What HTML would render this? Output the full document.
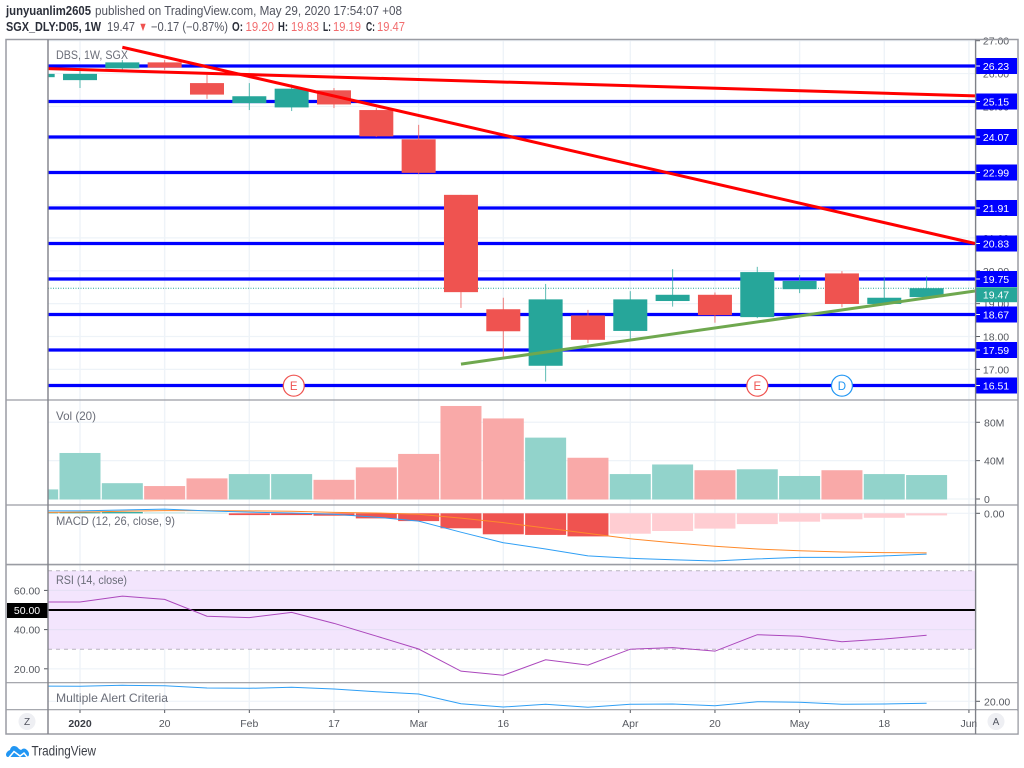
<!DOCTYPE html>
<html lang="en">
<head>
<meta charset="utf-8">
<title>SGX_DLY:D05 weekly chart</title>
<style>
html,body{margin:0;padding:0;background:#fff;width:1024px;height:768px;overflow:hidden}
svg{display:block;position:absolute;left:0;top:0}
text{font-family:"Liberation Sans",sans-serif}
.hd{font-size:12.6px;fill:#50535e}
.hb{font-size:12.6px;fill:#2a2e39;font-weight:bold}
.hr{font-size:12.6px;fill:#f26c6e}
</style>
</head>
<body>
<svg id="chart" width="1024" height="768" viewBox="0 0 1024 768" xmlns="http://www.w3.org/2000/svg">
<defs>
<clipPath id="plot-clip"><rect x="48" y="40" width="927.5" height="670"></rect></clipPath>
</defs>
<g>
<text class="hb" x="6" y="15" textLength="85" lengthAdjust="spacingAndGlyphs">junyuanlim2605</text>
<text class="hd" x="95" y="15" textLength="307" lengthAdjust="spacingAndGlyphs">published on TradingView.com, May 29, 2020 17:54:07 +08</text>
<text class="hb" x="6" y="31" textLength="95" lengthAdjust="spacingAndGlyphs">SGX_DLY:D05, 1W</text>
<text class="hd" x="107" y="31" textLength="28" lengthAdjust="spacingAndGlyphs">19.47</text>
<text class="hr" x="138.5" y="31" textLength="9" lengthAdjust="spacingAndGlyphs" style="fill:#ef5350">▼</text>
<text class="hd" x="151" y="31" textLength="77" lengthAdjust="spacingAndGlyphs">−0.17 (−0.87%)</text>
<text class="hb" x="232" y="31" textLength="11" lengthAdjust="spacingAndGlyphs">O:</text>
<text class="hr" x="245.5" y="31" textLength="28.5" lengthAdjust="spacingAndGlyphs">19.20</text>
<text class="hb" x="278" y="31" textLength="10" lengthAdjust="spacingAndGlyphs">H:</text>
<text class="hr" x="291" y="31" textLength="28" lengthAdjust="spacingAndGlyphs">19.83</text>
<text class="hb" x="323" y="31" textLength="8" lengthAdjust="spacingAndGlyphs">L:</text>
<text class="hr" x="333" y="31" textLength="28" lengthAdjust="spacingAndGlyphs">19.19</text>
<text class="hb" x="366" y="31" textLength="9" lengthAdjust="spacingAndGlyphs">C:</text>
<text class="hr" x="377" y="31" textLength="28" lengthAdjust="spacingAndGlyphs">19.47</text>
</g>
</svg>
<script>
// ---- data: one entry per weekly bar, Dec 30 2019 to May 25 2020 ----
const weeks = ['2019-12-30','2020-01-06','2020-01-13','2020-01-20','2020-01-27','2020-02-03','2020-02-10','2020-02-17','2020-02-24','2020-03-02','2020-03-09','2020-03-16','2020-03-23','2020-03-30','2020-04-06','2020-04-13','2020-04-20','2020-04-27','2020-05-04','2020-05-11','2020-05-18','2020-05-25'];
const opens  = [25.89,25.80,26.16,26.34,25.71,25.10,24.97,25.49,24.89,24.00,22.31,18.83,17.11,18.64,18.17,19.08,19.27,18.59,19.44,19.92,18.99,19.20];
const highs  = [25.99,26.17,26.41,26.41,25.96,25.71,25.67,25.56,24.95,24.44,22.31,19.18,19.60,18.81,19.38,20.05,19.34,20.12,19.87,19.99,19.82,19.83];
const lows   = [25.89,25.56,26.05,26.11,25.23,24.89,24.86,24.95,24.07,22.94,18.87,17.38,16.63,17.80,17.92,18.91,18.42,18.56,19.32,18.89,18.99,19.19];
const closes = [25.99,25.99,26.34,26.18,25.36,25.31,25.54,25.06,24.09,22.98,19.35,18.16,19.13,17.90,19.13,19.27,18.65,19.96,19.69,18.99,19.18,19.47];
const volumes = [10,48,16.5,13.5,21.5,26,26,20,33,47,97,84,64,43,26,36,30,31,24,30,26,25];
const macdHist = [0.02,0.03,0.04,0.03,0.02,-0.06,-0.06,-0.08,-0.17,-0.26,-0.50,-0.70,-0.72,-0.77,-0.68,-0.59,-0.51,-0.36,-0.28,-0.20,-0.15,-0.07];
const macdLine = [0.08,0.08,0.11,0.14,0.08,0.04,0.01,-0.03,-0.13,-0.26,-0.63,-0.98,-1.19,-1.42,-1.50,-1.55,-1.59,-1.52,-1.47,-1.47,-1.42,-1.36];
const signalLine = [0.03,0.04,0.07,0.09,0.09,0.08,0.07,0.03,0.01,-0.03,-0.16,-0.31,-0.49,-0.67,-0.85,-0.98,-1.10,-1.19,-1.25,-1.29,-1.31,-1.32];
const rsiValues = [54.1,54.1,57.1,55.4,46.8,46.1,48.8,43.2,36.7,30.1,18.8,16.7,24.6,21.9,30.0,30.8,29.0,37.4,36.6,33.8,35.2,37.1];
const alertValues = [50.6,50,52,51.2,46.6,46,48,44.6,39.2,34.6,15.2,8.6,14,8,14,14.6,11.2,19.2,18,14,14.6,16];
const levelPrices = [26.23,25.15,24.07,22.99,21.91,20.83,19.75,18.67,17.59,16.51];
const priceTicks = [27,26,25,24,23,22,21,20,19,18,17];
const volTicks = [0,40,80];
const rsiTicks = [60,40,20];
const timeTickLabels = ['2020','20','Feb','17','Mar','16','Apr','20','May','18','Jun'];
const timeTickBars = [1,3,5,7,9,11,14,16,18,20,22];
const eventBars = [6.05,17,19];
const eventLabels = ['E','E','D'];
const trendBarsA = [2,22.143];
const trendPricesA = [26.80,20.83];
const trendBarsB = [0.244,22.143];
const trendPricesB = [26.15,25.32];
const trendBarsC = [10,22.143];
const trendPricesC = [17.16,19.385];
const lastPrice = 19.47;

// ---- axis functions ----
const xAt = k => 80 + 42.33 * (k - 1);
const yPrice = p => 66 + (26.23 - p) * 32.87;
const yVol = v => 499 - v * 0.959;
const yMacd = v => 513.3 - v * 30;
const yRsi = v => 610 - (v - 50) * 1.96;
const yAlert = v => 701.3 - (v - 20) * 0.5;

const svg = document.getElementById('chart');
const NS = 'http://www.w3.org/2000/svg';
function mk(tag, attrs, parent) {
  const el = document.createElementNS(NS, tag);
  for (const k in attrs) el.setAttribute(k, attrs[k]);
  (parent || svg).appendChild(el);
  return el;
}
function label(txt, x, y, size, fill, anchor, weight) {
  const t = mk('text', {x: x, y: y, 'font-size': size, fill: fill, 'text-anchor': anchor || 'start', 'font-weight': weight || 'normal'});
  t.textContent = txt;
  return t;
}
function linePath(values, yFn) {
  return values.map((v, k) => (k ? 'L' : 'M') + xAt(k).toFixed(2) + ' ' + yFn(v).toFixed(2)).join(' ');
}

const GRID = '#eef3f8', AXIS = '#55585f', FRAME = '#9a9ca3';
const UP = '#26a69a', DOWN = '#ef5350';
const plot = mk('g', {'clip-path': 'url(#plot-clip)'});



// vertical grid
timeTickBars.forEach(k => {
  const g = mk('line', {x1: xAt(k), x2: xAt(k), y1: 40, y2: 710, stroke: GRID, 'stroke-width': 1.4}, plot);
  
  
});
// horizontal price grid + ticks
priceTicks.forEach(p => {
  const g = mk('line', {x1: 48, x2: 975, y1: yPrice(p), y2: yPrice(p), stroke: GRID, 'stroke-width': 1.2}, plot);
  
  
  const tk = mk('line', {x1: 975, x2: 980, y1: yPrice(p), y2: yPrice(p), stroke: AXIS, 'stroke-width': 1});
  
  
  const t = label(p.toFixed(2), 996, yPrice(p) + 4, 10.5, AXIS, 'middle');
  
  
});
// horizontal levels
levelPrices.forEach(p => {
  const l = mk('line', {x1: 48, x2: 975, y1: yPrice(p), y2: yPrice(p), stroke: '#0000ff', 'stroke-width': 3.2}, plot);
  
  
});
// last price line
const lp = mk('line', {x1: 48, x2: 975, y1: yPrice(lastPrice), y2: yPrice(lastPrice), stroke: UP, 'stroke-width': 1, 'stroke-dasharray': '1 1.5'}, plot);



// candles
weeks.forEach((w, k) => {
  const c = closes[k] >= opens[k] ? UP : DOWN;
  const x = xAt(k);
  const g = mk('g', {}, plot);
  
  
  mk('line', {x1: x, x2: x, y1: yPrice(highs[k]), y2: yPrice(lows[k]), stroke: c, 'stroke-width': 1, opacity: 0.75}, g);
  const top = yPrice(Math.max(opens[k], closes[k]));
  const bot = yPrice(Math.min(opens[k], closes[k]));
  mk('rect', {x: x - 17, y: top, width: 34, height: bot - top, fill: c}, g);
});

// trend lines
[[trendBarsA, trendPricesA, '#ff0000', 'downtrend-line-steep'], [trendBarsB, trendPricesB, '#ff0000', 'downtrend-line-shallow'], [trendBarsC, trendPricesC, '#6fa84f', 'uptrend-line']].forEach(d => {
  const t = mk('line', {x1: xAt(d[0][0]), y1: yPrice(d[1][0]), x2: xAt(d[0][1]), y2: yPrice(d[1][1]), stroke: d[2], 'stroke-width': 3}, plot);
  
  
});

// events
eventBars.forEach((k, n) => {
  const col = eventLabels[n] === 'E' ? '#ef5350' : '#2196f3';
  const c = mk('circle', {cx: xAt(k), cy: 385.7, r: 10.5, fill: '#fff', stroke: col, 'stroke-width': 1.2}, plot);
  
  
  const t = label(eventLabels[n], xAt(k), 389.9, 11.5, col, 'middle');
  
  
  plot.appendChild(t);
});

// volume
volTicks.forEach(v => {
  const g = mk('line', {x1: 48, x2: 975, y1: yVol(v), y2: yVol(v), stroke: GRID, 'stroke-width': 1.2}, plot);
  
  
  const tk = mk('line', {x1: 975, x2: 980, y1: yVol(v), y2: yVol(v), stroke: AXIS, 'stroke-width': 1});
  
  
  const t = label(v ? v + 'M' : '0', 984, yVol(v) + 4, 10.5, AXIS);
  
  
});
volumes.forEach((v, k) => {
  const r = mk('rect', {x: xAt(k) - 20.5, y: yVol(v), width: 41, height: 499.5 - yVol(v), fill: closes[k] >= opens[k] ? '#92d3cb' : '#f9a9a8'}, plot);
  
  
});

// MACD
const m0 = mk('line', {x1: 48, x2: 975, y1: yMacd(0), y2: yMacd(0), stroke: GRID, 'stroke-width': 1.2}, plot);


macdHist.forEach((v, k) => {
  const prev = k ? macdHist[k - 1] : 0;
  const col = v >= 0 ? (v >= prev ? UP : '#b2dfdb') : (v <= prev ? DOWN : '#ffcdd2');
  const y0 = yMacd(Math.max(v, 0)), y1 = yMacd(Math.min(v, 0));
  const r = mk('rect', {x: xAt(k) - 20.5, y: y0, width: 41, height: y1 - y0, fill: col}, plot);
  
  
});
const sg = mk('path', {d: linePath(signalLine, yMacd), fill: 'none', stroke: '#ff8a2b', 'stroke-width': 1}, plot);


const mc = mk('path', {d: linePath(macdLine, yMacd), fill: 'none', stroke: '#2f9ff5', 'stroke-width': 1}, plot);



// RSI
const band = mk('rect', {x: 48, y: yRsi(70), width: 927.5, height: yRsi(30) - yRsi(70), fill: '#f3e5fd'}, plot);


rsiTicks.forEach(v => {
  const g = mk('line', {x1: 48, x2: 975, y1: yRsi(v), y2: yRsi(v), stroke: v === 20 ? GRID : '#e6e0f5', 'stroke-width': 1.2}, plot);
  
  
  const tk = mk('line', {x1: 44, x2: 48, y1: yRsi(v), y2: yRsi(v), stroke: AXIS, 'stroke-width': 1});
  
  
  const t = label(v.toFixed(2), 27, yRsi(v) + 4, 10.5, AXIS, 'middle');
  
  
});
[70, 30].forEach(v => {
  const d = mk('line', {x1: 48, x2: 975, y1: yRsi(v), y2: yRsi(v), stroke: '#b9b4bf', 'stroke-width': 1, 'stroke-dasharray': '4 4'}, plot);
  
  
});
const mid = mk('line', {x1: 48, x2: 975, y1: yRsi(50), y2: yRsi(50), stroke: '#000', 'stroke-width': 2}, plot);


const rs = mk('path', {d: linePath(rsiValues, yRsi), fill: 'none', stroke: '#ab47bc', 'stroke-width': 1}, plot);


const midBox = mk('rect', {x: 7, y: 603, width: 41, height: 15, fill: '#000'});


const midTxt = label('50.00', 27, 614, 10.5, '#fff', 'middle');



// Alert pane
const a0 = mk('line', {x1: 48, x2: 975, y1: yAlert(20), y2: yAlert(20), stroke: GRID, 'stroke-width': 1.2}, plot);


const al = mk('path', {d: linePath(alertValues, yAlert), fill: 'none', stroke: '#2f9ff5', 'stroke-width': 1}, plot);



// right-axis single ticks
const mt = mk('line', {x1: 975, x2: 980, y1: yMacd(0), y2: yMacd(0), stroke: AXIS, 'stroke-width': 1});


const mtl = label('0.00', 984, yMacd(0) + 4, 10.5, AXIS);


const at = mk('line', {x1: 975, x2: 980, y1: yAlert(20), y2: yAlert(20), stroke: AXIS, 'stroke-width': 1});


const atl = label('20.00', 984, yAlert(20) + 4, 10.5, AXIS);



// level price tags
levelPrices.forEach(p => {
  const y = yPrice(p);
  const r = mk('rect', {x: 976, y: y - 8, width: 41, height: 16, fill: '#0000ff'});
  
  
  const tk = mk('line', {x1: 976, x2: 980, y1: y, y2: y, stroke: '#fff', 'stroke-width': 1});
  
  
  const t = label(p.toFixed(2), 996, y + 4, 10.5, '#fff', 'middle');
  
  
});
// the last-price tag is nudged below the 19.75 tag, as the platform does to avoid overlap
const lpTagY = yPrice(lastPrice) + 6.5;
const lpBox = mk('rect', {x: 976, y: lpTagY - 7.5, width: 41, height: 15, fill: UP});


const lpTxt = label(lastPrice.toFixed(2), 996, lpTagY + 4, 10.5, '#fff', 'middle');



// frame & dividers
[400, 505, 564.6, 682.7, 709.7].forEach(y => {
  const d = mk('line', {x1: 6, x2: 1018, y1: y, y2: y, stroke: FRAME, 'stroke-width': y === 564.6 ? 1.6 : 1.2});
  
  
});
const frame = mk('rect', {x: 6, y: 39.5, width: 1012, height: 694.5, fill: 'none', stroke: FRAME, 'stroke-width': 1.5});


const la = mk('line', {x1: 48, x2: 48, y1: 39.5, y2: 734, stroke: '#7f8188', 'stroke-width': 1.4});


const ra = mk('line', {x1: 975.6, x2: 975.6, y1: 39.5, y2: 734, stroke: '#7f8188', 'stroke-width': 1.4});



// time axis
timeTickLabels.forEach((s, n) => {
  const x = xAt(timeTickBars[n]);
  const tk = mk('line', {x1: x, x2: x, y1: 710, y2: 713, stroke: AXIS, 'stroke-width': 1});
  
  
  const t = label(s, x, 727, 10.5, s === '2020' ? '#3a3d45' : AXIS, 'middle', s === '2020' ? 'bold' : 'normal');
  
  
});
const cover = mk('rect', {x: 976.4, y: 711, width: 41, height: 22.3, fill: '#fff'});



// pane legends
[['DBS, 1W, SGX', 59, 72, 'price-legend'], ['Vol (20)', 420, 40, 'volume-legend'], ['MACD (12, 26, close, 9)', 525, 119, 'macd-legend'], ['RSI (14, close)', 584, 71, 'rsi-legend'], ['Multiple Alert Criteria', 702, 112, 'alert-legend']].forEach(d => {
  const t = label(d[0], 56, d[1], 12, '#6a6d78');
  t.setAttribute('textLength', d[2]);
  t.setAttribute('lengthAdjust', 'spacingAndGlyphs');
  
  
});

// Z and A buttons
[[27, 'Z', 'zoom-button'], [996, 'A', 'auto-button']].forEach(d => {
  const c = mk('circle', {cx: d[0], cy: 721.5, r: 8.5, fill: '#eeeff3'});
  
  
  const t = label(d[1], d[0], 725, 10, '#50535e', 'middle');
  
  
});

// logo
const logo = mk('path', {d: 'M6 754 Q7 751 10 750 Q11 746 14 746 Q17 746 19 749 L21 750 Q24 747 27 750 Q29 752 29 754 Q29 757 26 757 L8 757 Q6 757 6 754 Z', fill: '#2196f3'});


const logoMark = mk('path', {d: 'M9 757.5 L14 751.5 L20 756 L24 753 L27.5 757.5', fill: 'none', stroke: '#fff', 'stroke-width': 1.5});


const logoTxt = label('TradingView', 31.5, 755.5, 13.5, '#3a3d45');
logoTxt.setAttribute('textLength', 64.5);
logoTxt.setAttribute('lengthAdjust', 'spacingAndGlyphs');


</script>
</body>
</html>
